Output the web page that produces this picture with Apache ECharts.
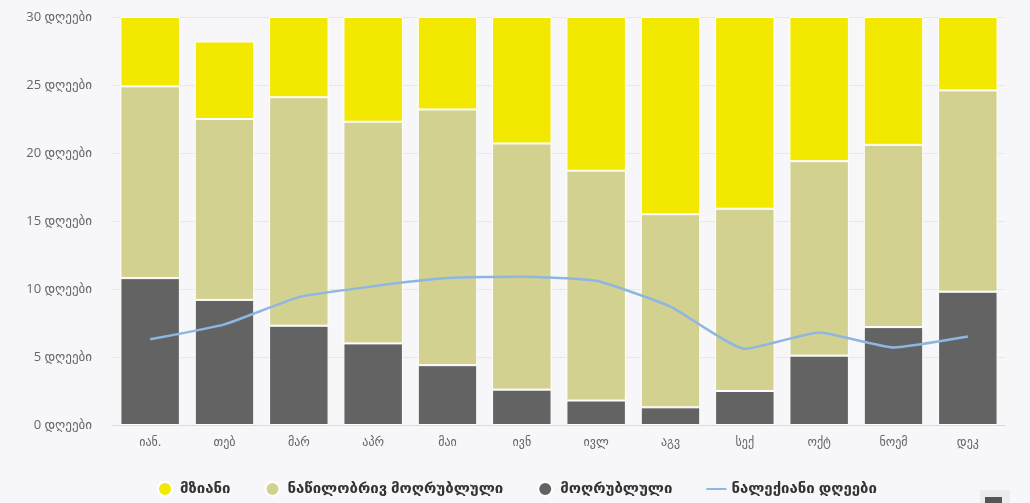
<!DOCTYPE html>
<html>
<head>
<meta charset="utf-8">
<script src="https://cdn.jsdelivr.net/npm/echarts@6/dist/echarts.min.js"></script>
<style>
html,body{margin:0;padding:0;background:#f7f7f9;}
#c{width:1030px;height:503px;}
</style>
</head>
<body>
<div id="c"></div>
<script>
const months = ['იან.', 'თებ', 'მარ', 'აპრ', 'მაი', 'ივნ', 'ივლ', 'აგვ', 'სექ', 'ოქტ', 'ნოემ', 'დეკ'];
const sunny = [5.1, 5.7, 5.9, 7.7, 6.8, 9.3, 11.3, 14.5, 14.1, 10.6, 9.4, 5.4];
const partlyCloudy = [14.1, 13.3, 16.8, 16.3, 18.8, 18.1, 16.9, 14.2, 13.4, 14.3, 13.4, 14.8];
const overcast = [10.8, 9.2, 7.3, 6.0, 4.4, 2.6, 1.8, 1.3, 2.5, 5.1, 7.2, 9.8];
const precipDays = [6.3, 7.4, 9.4, 10.2, 10.8, 10.9, 10.6, 8.7, 5.6, 6.8, 5.7, 6.5];
const seriesNames = ['მზიანი', 'ნაწილობრივ მოღრუბლული', 'მოღრუბლული', 'ნალექიანი დღეები'];
const unit = 'დღეები';

const FONT = '"Open Sans", "DejaVu Sans", sans-serif';
const chart = echarts.init(document.getElementById('c'), null, {renderer: 'canvas'});
const barStyle = (c) => ({color: c, borderColor: '#ffffff', borderWidth: 1});
chart.setOption({
  backgroundColor: '#f7f7f9',
  animation: false,
  grid: {left: 113, right: 25, top: 17, bottom: 78},
  legend: {
    left: 152, top: 476,
    itemWidth: 20, itemHeight: 14, itemGap: 34,
    textStyle: {fontFamily: FONT, fontSize: 15, fontWeight: 'bold', color: '#333333'},
    data: [
      {name: seriesNames[0], icon: 'circle'},
      {name: seriesNames[1], icon: 'circle'},
      {name: seriesNames[2], icon: 'circle'},
      {name: seriesNames[3], icon: 'path://M0,0L20,0L20,2L0,2Z'}
    ]
  },
  xAxis: {
    type: 'category',
    data: months,
    axisLine: {lineStyle: {color: '#dcdce0'}},
    axisTick: {show: false},
    axisLabel: {color: '#666666', fontFamily: FONT, fontSize: 12, margin: 12},
    splitLine: {show: false}
  },
  yAxis: {
    type: 'value', min: 0, max: 30, interval: 5,
    axisLabel: {formatter: '{value} ' + unit, color: '#666666', fontFamily: FONT, fontSize: 13, margin: 21},
    splitLine: {lineStyle: {color: '#e6e6ec', width: 1}},
    axisLine: {show: false}, axisTick: {show: false}
  },
  series: [
    {name: seriesNames[2], type: 'bar', stack: 's', data: overcast, barCategoryGap: '20%', itemStyle: barStyle('#636363')},
    {name: seriesNames[1], type: 'bar', stack: 's', data: partlyCloudy, itemStyle: barStyle('#d3d18f')},
    {name: seriesNames[0], type: 'bar', stack: 's', data: sunny, itemStyle: barStyle('#f2e800')},
    {name: seriesNames[3], type: 'line', data: precipDays, smooth: 0.15, showSymbol: false, symbol: 'none',
     lineStyle: {color: '#8db7e2', width: 2.5}, itemStyle: {color: '#8db7e2'}, z: 5}
  ],
  graphic: [
    {type: 'rect', shape: {x: 980, y: 490, width: 30, height: 15}, style: {fill: '#ececef'}},
    {type: 'rect', shape: {x: 985, y: 497, width: 17, height: 8}, style: {fill: '#555555'}}
  ]
});
</script>
</body>
</html>
